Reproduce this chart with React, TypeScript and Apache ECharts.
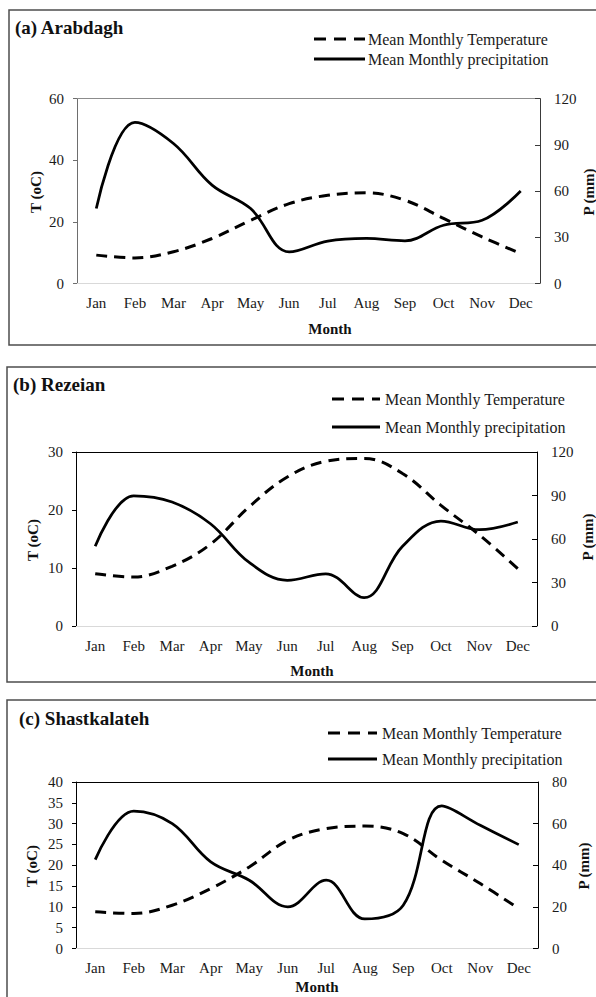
import React, { useEffect, useRef } from "react";
import * as echarts from "echarts";

// ---------- data ----------
const months = ["Jan", "Feb", "Mar", "Apr", "May", "Jun", "Jul", "Aug", "Sep", "Oct", "Nov", "Dec"];

const tempArabdagh = [9.2, 8.3, 10.3, 14.6, 20.5, 25.9, 28.6, 29.4, 27.0, 21.1, 15.1, 9.7];
const precipArabdagh = [48.6, 104.5, 90.8, 63.8, 48.6, 20.5, 27.5, 29.2, 27.7, 37.8, 41.0, 60.0];

const tempRezeian = [9.0, 8.45, 10.3, 14.1, 20.5, 25.7, 28.4, 28.9, 26.3, 20.8, 15.7, 9.9];
const precipRezeian = [55.0, 89.8, 85.5, 70.5, 44.0, 31.5, 36.0, 19.5, 55.0, 72.4, 66.4, 71.7];

const tempShastkalateh = [8.8, 8.4, 10.4, 14.4, 19.6, 26.0, 28.8, 29.4, 27.6, 21.2, 15.6, 9.6];
const precipShastkalateh = [42.7, 66.0, 60.0, 41.6, 32.8, 20.0, 32.8, 14.2, 20.8, 68.5, 59.2, 49.9];

const panelTitles = ["(a) Arabdagh", "(b) Rezeian", "(c) Shastkalateh"];
const legendNames = ["Mean Monthly Temperature", "Mean Monthly precipitation"];
const xAxisTitle = "Month";
const leftAxisTitle = "T (oC)";
const rightAxisTitle = "P (mm)";

const leftMax = [60, 30, 40];
const leftInterval = [20, 10, 5];
const rightMax = [120, 120, 80];
const rightInterval = [30, 30, 20];

const temps = [tempArabdagh, tempRezeian, tempShastkalateh];
const precips = [precipArabdagh, precipRezeian, precipShastkalateh];

// ---------- layout ----------
const FONT = '"Liberation Serif", "Times New Roman", serif';
const grids = [
  { left: 77, top: 98.5, width: 463, height: 185 },
  { left: 76, top: 452, width: 461, height: 174 },
  { left: 76, top: 782, width: 462, height: 166.5 },
];
const frames = [
  { x: 9, y: 10, h: 335 },
  { x: 7, y: 367, h: 315 },
  { x: 7, y: 700, h: 400 },
];
const titlePos = [
  { x: 15, y: 27 },
  { x: 13, y: 384 },
  { x: 19, y: 718 },
];
const legendPos = [
  { x1: 314, x2: 365, tx: 368, y1: 39, y2: 59 },
  { x1: 332, x2: 380, tx: 385, y1: 399, y2: 427 },
  { x1: 328, x2: 377, tx: 382, y1: 733, y2: 759 },
];
const monthTitlePos = [
  { x: 330, y: 329 },
  { x: 312, y: 671 },
  { x: 317, y: 987 },
];
const leftTitlePos = [
  { x: 36, y: 192 },
  { x: 33, y: 540 },
  { x: 32, y: 866 },
];
const rightTitlePos = [
  { x: 589, y: 192 },
  { x: 588, y: 537 },
  { x: 584, y: 866 },
];
const axisColors = [
  { top: "#8c8c8c", left: "#6e6e6e", right: "#3a3a3a", bottom: "#d9d9d9" },
  { top: "#000000", left: "#000000", right: "#000000", bottom: "#d9d9d9" },
  { top: "#000000", left: "#000000", right: "#000000", bottom: "#d9d9d9" },
];

function buildOption() {
  const xAxis: any[] = [];
  const yAxis: any[] = [];
  const series: any[] = [];
  const graphic: any[] = [];
  const labelStyle = { fontFamily: FONT, fontSize: 15, color: "#1a1a1a" };

  for (let i = 0; i < 3; i++) {
    const c = axisColors[i];
    xAxis.push({
      gridIndex: i,
      type: "category",
      data: months,
      position: "bottom",
      boundaryGap: true,
      axisLine: { show: true, onZero: false, lineStyle: { color: c.bottom, width: 1 } },
      axisTick: { show: false },
      axisLabel: { ...labelStyle, margin: 12, interval: 0 },
      splitLine: { show: false },
    });
    xAxis.push({
      gridIndex: i,
      type: "category",
      data: months,
      position: "top",
      boundaryGap: true,
      axisLine: { show: true, onZero: false, lineStyle: { color: c.top, width: 1 } },
      axisTick: { show: false },
      axisLabel: { show: false },
      splitLine: { show: false },
    });
    yAxis.push({
      gridIndex: i,
      type: "value",
      position: "left",
      min: 0,
      max: leftMax[i],
      interval: leftInterval[i],
      axisLine: { show: true, onZero: false, lineStyle: { color: c.left, width: 1 } },
      axisTick: { show: true, inside: false, length: 4, lineStyle: { color: c.left } },
      axisLabel: { ...labelStyle, margin: 13 },
      splitLine: { show: false },
    });
    yAxis.push({
      gridIndex: i,
      type: "value",
      position: "right",
      min: 0,
      max: rightMax[i],
      interval: rightInterval[i],
      axisLine: { show: true, onZero: false, lineStyle: { color: c.right, width: 1 } },
      axisTick: { show: true, inside: true, length: 5, lineStyle: { color: c.right } },
      axisLabel: { ...labelStyle, margin: 14 },
      splitLine: { show: false },
    });

    series.push({
      type: "line",
      name: legendNames[0],
      xAxisIndex: 2 * i,
      yAxisIndex: 2 * i,
      data: temps[i],
      smooth: 0.38,
      symbol: "none",
      lineStyle: { color: "#000", width: 3, type: [11, 7] },
    });
    series.push({
      type: "line",
      name: legendNames[1],
      xAxisIndex: 2 * i,
      yAxisIndex: 2 * i + 1,
      data: precips[i],
      smooth: 0.38,
      symbol: "none",
      lineStyle: { color: "#000", width: 2.75 },
    });

    const f = frames[i];
    graphic.push({
      type: "rect",
      shape: { x: f.x, y: f.y, width: 620, height: f.h },
      style: { fill: "none", stroke: "#4d4d4d", lineWidth: 1.5 },
      silent: true,
    });
    graphic.push({
      type: "text",
      x: titlePos[i].x,
      y: titlePos[i].y,
      style: {
        text: panelTitles[i],
        fontFamily: FONT,
        fontSize: 19,
        fontWeight: "bold",
        fill: "#111",
        align: "left",
        verticalAlign: "middle",
      },
    });
    const lg = legendPos[i];
    graphic.push({
      type: "line",
      shape: { x1: lg.x1, y1: lg.y1, x2: lg.x2, y2: lg.y1 },
      style: { stroke: "#000", lineWidth: 3, lineDash: [12, 8] },
    });
    graphic.push({
      type: "line",
      shape: { x1: lg.x1, y1: lg.y2, x2: lg.x2, y2: lg.y2 },
      style: { stroke: "#000", lineWidth: 3 },
    });
    graphic.push({
      type: "text",
      x: lg.tx,
      y: lg.y1,
      style: { text: legendNames[0], fontFamily: FONT, fontSize: 16, fill: "#1a1a1a", align: "left", verticalAlign: "middle" },
    });
    graphic.push({
      type: "text",
      x: lg.tx,
      y: lg.y2,
      style: { text: legendNames[1], fontFamily: FONT, fontSize: 16, fill: "#1a1a1a", align: "left", verticalAlign: "middle" },
    });
    graphic.push({
      type: "text",
      x: monthTitlePos[i].x,
      y: monthTitlePos[i].y,
      style: { text: xAxisTitle, fontFamily: FONT, fontSize: 15, fontWeight: "bold", fill: "#111", align: "center", verticalAlign: "middle" },
    });
    graphic.push({
      type: "text",
      x: leftTitlePos[i].x,
      y: leftTitlePos[i].y,
      rotation: Math.PI / 2,
      style: { text: leftAxisTitle, fontFamily: FONT, fontSize: 15, fontWeight: "bold", fill: "#111", align: "center", verticalAlign: "middle" },
    });
    graphic.push({
      type: "text",
      x: rightTitlePos[i].x,
      y: rightTitlePos[i].y,
      rotation: Math.PI / 2,
      style: { text: rightAxisTitle, fontFamily: FONT, fontSize: 15, fontWeight: "bold", fill: "#111", align: "center", verticalAlign: "middle" },
    });
  }

  return {
    animation: false,
    backgroundColor: "#ffffff",
    textStyle: { fontFamily: FONT },
    grid: grids.map((g) => ({ ...g, containLabel: false, show: false })),
    xAxis,
    yAxis,
    series,
    graphic,
  };
}

export default function App() {
  const ref = useRef<HTMLDivElement>(null);
  useEffect(() => {
    if (!ref.current) return;
    const chart = echarts.init(ref.current, undefined, { renderer: "svg" });
    chart.setOption(buildOption() as any);
    return () => chart.dispose();
  }, []);
  return (
    <div
      ref={ref}
      style={{ position: "absolute", left: 0, top: 0, width: 596, height: 997, background: "#fff" }}
    />
  );
}
